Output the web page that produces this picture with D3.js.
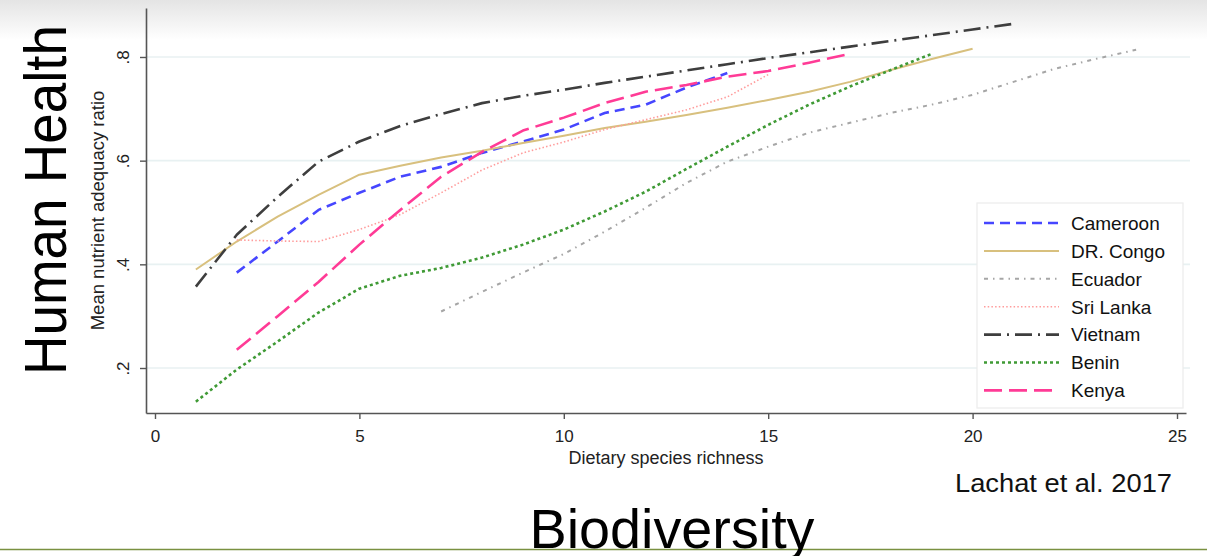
<!DOCTYPE html>
<html>
<head>
<meta charset="utf-8">
<script src="https://cdn.jsdelivr.net/npm/d3@7"></script>
<style>
  body { margin: 0; background: #fff; }
  svg { display: block; }
  .tick text { font-family: "Liberation Sans", Arial, sans-serif; fill: #222; }
</style>
</head>
<body>
<div id="chart"></div>
<script>
// Richness values are consecutive integers starting at each country's first x
var countries = ["Cameroon", "DR. Congo", "Ecuador", "Sri Lanka", "Vietnam", "Benin", "Kenya"];
var startX = [2, 1, 7, 2, 1, 1, 2];
var cameroon = [0.384, 0.444, 0.505, 0.538, 0.569, 0.588, 0.615, 0.637, 0.660, 0.692, 0.708, 0.741, 0.769];
var drCongo = [0.390, 0.444, 0.492, 0.534, 0.573, 0.590, 0.606, 0.619, 0.634, 0.648, 0.663, 0.675, 0.688, 0.702, 0.717, 0.733, 0.752, 0.775, 0.796, 0.816];
var ecuador = [0.309, 0.347, 0.384, 0.420, 0.463, 0.509, 0.557, 0.598, 0.627, 0.654, 0.673, 0.692, 0.708, 0.727, 0.752, 0.777, 0.796, 0.814];
var sriLanka = [0.447, 0.445, 0.444, 0.467, 0.496, 0.538, 0.582, 0.615, 0.636, 0.660, 0.679, 0.698, 0.723, 0.766];
var vietnam = [0.357, 0.457, 0.530, 0.598, 0.637, 0.667, 0.690, 0.711, 0.725, 0.737, 0.750, 0.762, 0.774, 0.786, 0.798, 0.809, 0.820, 0.831, 0.842, 0.853, 0.864];
var benin = [0.135, 0.197, 0.251, 0.307, 0.353, 0.378, 0.393, 0.413, 0.438, 0.467, 0.502, 0.540, 0.584, 0.627, 0.669, 0.708, 0.743, 0.775, 0.806];
var kenya = [0.235, 0.300, 0.366, 0.438, 0.505, 0.569, 0.617, 0.658, 0.683, 0.711, 0.733, 0.746, 0.762, 0.773, 0.789, 0.806];
var xTicks = [0, 5, 10, 15, 20, 25];
var yTicks = [0.2, 0.4, 0.6, 0.8];

var values = [cameroon, drCongo, ecuador, sriLanka, vietnam, benin, kenya];
var colors = ["#4646ff", "#d8c07e", "#a6a6a6", "#ff9c9c", "#3e3e3e", "#3f9a35", "#ff3b96"];
var dashes = ["10,6", null, "4,5,1.5,5", "1.5,2.2", "17,6,2,6", "3,3", "18,7"];
var widths = [2.6, 2, 2, 1.6, 2.6, 2.6, 2.6];

var W = 1207, H = 556;

var svg = d3.select("#chart")
    .append("svg")
    .attr("width", W)
    .attr("height", H);

// Slide shadow at the top
var grad = svg.append("defs").append("linearGradient")
    .attr("id", "topShade").attr("x1", 0).attr("y1", 0).attr("x2", 0).attr("y2", 1);
grad.append("stop").attr("offset", "0%").attr("stop-color", "#e4e4e4");
grad.append("stop").attr("offset", "100%").attr("stop-color", "#ffffff");
svg.append("rect")
    .attr("x", 0).attr("y", 0).attr("width", W).attr("height", 40)
    .attr("fill", "url(#topShade)");

// Scales (axis lines run a little past the outer ticks)
var x = d3.scaleLinear().domain([-0.22, 25.22]).range([146, 1186]);
var y = d3.scaleLinear().domain([0.1132, 0.8945]).range([413, 8]);

// Gridlines
svg.append("g")
    .selectAll("line")
    .data(yTicks)
    .enter()
    .append("line")
    .attr("x1", x.range()[0] + 1)
    .attr("x2", x.range()[1] + 4)
    .attr("y1", function (d) { return y(d); })
    .attr("y2", function (d) { return y(d); })
    .style("stroke", "#e8f1f2")
    .style("stroke-width", 1.6);

// X axis
var xAxis = svg.append("g")
    .attr("transform", "translate(0," + y.range()[0] + ")")
    .call(d3.axisBottom(x).tickValues(xTicks).tickSize(6).tickSizeOuter(0).tickPadding(11));
xAxis.select(".domain").style("stroke", "#555").style("stroke-width", 1.6);
xAxis.selectAll(".tick line").style("stroke", "#555").style("stroke-width", 1.4);
xAxis.selectAll(".tick text").style("font-size", "17px");

// Y axis, labels turned like the original
var yAxis = svg.append("g")
    .attr("transform", "translate(" + x.range()[0] + ",0)")
    .call(d3.axisLeft(y).tickValues(yTicks).tickSize(6).tickSizeOuter(0)
        .tickFormat(function (d) { return d3.format(".1f")(d).replace(/^0/, ""); }));
yAxis.select(".domain").style("stroke", "#555").style("stroke-width", 1.6);
yAxis.selectAll(".tick line").style("stroke", "#555").style("stroke-width", 1.4);
yAxis.selectAll(".tick text")
    .style("font-size", "17px")
    .attr("x", null).attr("dy", null)
    .attr("text-anchor", "middle")
    .attr("transform", "translate(-23,0) rotate(-90)")
    .attr("dy", "0.35em");

// Axis titles
svg.append("text")
    .attr("x", (x.range()[0] + x.range()[1]) / 2)
    .attr("y", 464)
    .attr("text-anchor", "middle")
    .style("font-family", "Liberation Sans, Arial, sans-serif")
    .style("font-size", "18px")
    .style("fill", "#222")
    .text("Dietary species richness");

svg.append("text")
    .attr("transform", "translate(104," + (y.range()[0] + y.range()[1]) / 2 + ") rotate(-90)")
    .attr("text-anchor", "middle")
    .style("font-family", "Liberation Sans, Arial, sans-serif")
    .style("font-size", "18.5px")
    .style("fill", "#222")
    .text("Mean nutrient adequacy ratio");

// Lines
var line = d3.line()
    .x(function (d) { return x(d.x); })
    .y(function (d) { return y(d.y); });

values.forEach(function (vals, i) {
    var pts = vals.map(function (v, j) { return { x: startX[i] + j, y: v }; });
    svg.append("path")
        .datum(pts)
        .attr("d", line)
        .style("fill", "none")
        .style("stroke", colors[i])
        .style("stroke-width", widths[i])
        .style("stroke-dasharray", dashes[i])
        .style("stroke-linejoin", "round");
});

// Legend
var legend = svg.append("g").attr("transform", "translate(977,203)");
legend.append("rect")
    .attr("width", 206).attr("height", 205)
    .style("fill", "#fff")
    .style("stroke", "#ececec")
    .style("stroke-width", 1.2);

var rows = legend.selectAll("g.row")
    .data(countries)
    .enter()
    .append("g")
    .attr("class", "row")
    .attr("transform", function (d, i) { return "translate(0," + (20 + i * 27.9) + ")"; });

rows.append("line")
    .attr("x1", 7).attr("x2", 82)
    .style("stroke", function (d, i) { return colors[i]; })
    .style("stroke-width", function (d, i) { return widths[i]; })
    .style("stroke-dasharray", function (d, i) { return dashes[i]; });

rows.append("text")
    .attr("x", 94)
    .attr("dy", "0.36em")
    .style("font-family", "Liberation Sans, Arial, sans-serif")
    .style("font-size", "19px")
    .style("fill", "#111")
    .text(function (d) { return d; });

// Slide texts
svg.append("text")
    .attr("transform", "translate(66,200) rotate(-90)")
    .attr("text-anchor", "middle")
    .attr("textLength", 350)
    .attr("lengthAdjust", "spacingAndGlyphs")
    .style("font-family", "Liberation Sans, sans-serif")
    .style("font-size", "60px")
    .style("fill", "#000")
    .text("Human Health");

svg.append("text")
    .attr("x", 1172)
    .attr("y", 492)
    .attr("text-anchor", "end")
    .attr("textLength", 217)
    .attr("lengthAdjust", "spacingAndGlyphs")
    .style("font-family", "Liberation Sans, sans-serif")
    .style("font-size", "26px")
    .style("fill", "#111")
    .text("Lachat et al. 2017");

svg.append("line")
    .attr("x1", 0).attr("x2", W)
    .attr("y1", 549.5).attr("y2", 549.5)
    .style("stroke", "#7a9140")
    .style("stroke-width", 1.6);

svg.append("text")
    .attr("x", 672)
    .attr("y", 548)
    .attr("text-anchor", "middle")
    .attr("textLength", 285)
    .attr("lengthAdjust", "spacingAndGlyphs")
    .style("font-family", "Liberation Sans, sans-serif")
    .style("font-size", "56px")
    .style("fill", "#000")
    .text("Biodiversity");
</script>
</body>
</html>
